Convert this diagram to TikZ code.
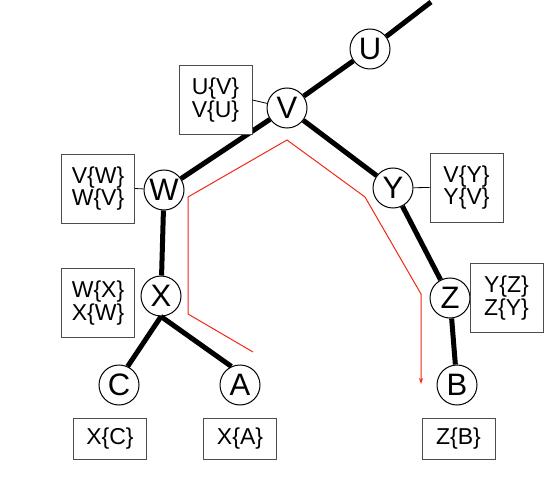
\documentclass[tikz,border=0pt]{standalone}
\usepackage{fontspec}
\setmainfont{Liberation Sans}
\usetikzlibrary{arrows.meta}
\definecolor{routered}{RGB}{240,40,20}
\begin{document}
\begin{tikzpicture}[x=1pt,y=-1pt,
  vert/.style={circle,draw,fill=white,line width=1pt,minimum size=40pt,inner sep=0pt,
    font=\fontsize{31}{31}\selectfont},
  tbl/.style={draw=black!70,line width=0.8pt,fill=white,align=left,inner sep=0pt,
    minimum width=73pt,font=\fontsize{23}{20}\selectfont},
  twoline/.style={tbl,minimum height=69pt},
  oneline/.style={tbl,minimum height=41pt},
  treeedge/.style={line width=5pt},
  link/.style={line width=0.8pt},
  route/.style={draw=routered,line width=1pt}]
\useasboundingbox (0,0) rectangle (556,478);

% vertices
\node[vert] (U) at (370,49) {U};
\node[vert] (V) at (287,108) {V};
\node[vert] (W) at (164,190) {W};
\node[vert] (Y) at (393,188) {Y};
\node[vert] (X) at (161,296) {X};
\node[vert] (Z) at (450,298) {Z};
\node[vert] (C) at (119,385) {C};
\node[vert] (A) at (240,385) {A};
\node[vert] (B) at (457,385) {B};
\coordinate (top) at (431,2);

% tree edges
\draw[treeedge] (top) -- (U);
\draw[treeedge] (U) -- (V);
\draw[treeedge] (V) -- (W);
\draw[treeedge] (V) -- (Y);
\draw[treeedge] (W) -- (X);
\draw[treeedge] (Y) -- (Z);
\draw[treeedge] (X.south) -- (C.65);
\draw[treeedge] (X.south) -- (A.115);
\draw[treeedge] (Z) -- (B);

% tables
\node[twoline] (tV) at (215.5,100) {U\{V\}\\V\{U\}};
\node[twoline] (tW) at (98,188.5) {V\{W\}\\W\{V\}};
\node[twoline] (tX) at (98,303) {W\{X\}\\X\{W\}};
\node[twoline] (tY) at (466.5,187.5) {V\{Y\}\\Y\{V\}};
\node[twoline] (tZ) at (506.5,298) {Y\{Z\}\\Z\{Y\}};
\node[oneline] (tC) at (110,438.5) {X\{C\}};
\node[oneline] (tA) at (240,438.5) {X\{A\}};
\node[oneline] (tB) at (458.5,438.5) {Z\{B\}};

\draw[link] (tV.east) -- (V);
\draw[link] (tW.east) -- (W);
\draw[link] (tY.west) -- (Y);

% message route
\coordinate (r0) at (253,352);
\coordinate (r1) at (188,314);
\coordinate (r2) at (188,197);
\coordinate (r3) at (287,140);
\coordinate (r4) at (365,197);
\coordinate (r5) at (421,294);
\coordinate (r6) at (421,384);
\draw[route,-{Stealth[length=6pt,width=4pt]}] (r0) -- (r1) -- (r2) -- (r3) -- (r4) -- (r5) -- (r6);
\end{tikzpicture}
\end{document}
